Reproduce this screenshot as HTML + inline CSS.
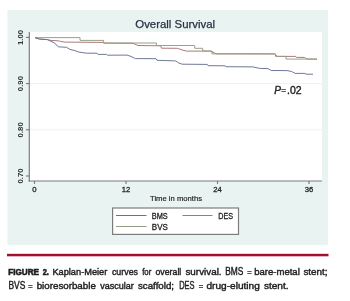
<!DOCTYPE html>
<html><head><meta charset="utf-8">
<style>
html,body{margin:0;padding:0;background:#fff;}
body{width:350px;height:301px;overflow:hidden;}
svg{display:block;filter:blur(0.45px);}
text{font-family:"Liberation Sans",sans-serif;}
</style></head><body>
<svg width="350" height="301" viewBox="0 0 350 301">
<rect x="0" y="0" width="350" height="301" fill="#ffffff"/>
<rect x="7.5" y="10" width="320.5" height="235" fill="#e8f3f2"/>
<rect x="30" y="32" width="292" height="149" fill="#ffffff"/>
<g stroke="#e8f3f2" stroke-width="1">
<line x1="30" y1="83.6" x2="322" y2="83.6"/>
<line x1="30" y1="129.8" x2="322" y2="129.8"/>
</g>
<text x="175.2" y="27.9" font-size="11.4" fill="#2c3044" stroke="#2c3044" stroke-width="0.25" text-anchor="middle">Overall Survival</text>
<g stroke="#7a7a7a" stroke-width="1.15" fill="none">
<line x1="29.3" y1="32" x2="29.3" y2="181.5"/>
<line x1="28.7" y1="181" x2="322" y2="181"/>
<line x1="26" y1="37.4" x2="29.5" y2="37.4"/>
<line x1="26" y1="83.6" x2="29.5" y2="83.6"/>
<line x1="26" y1="129.8" x2="29.5" y2="129.8"/>
<line x1="26" y1="176" x2="29.5" y2="176"/>
<line x1="34.5" y1="181" x2="34.5" y2="183.9"/>
<line x1="126" y1="181" x2="126" y2="183.9"/>
<line x1="217.5" y1="181" x2="217.5" y2="183.9"/>
<line x1="309" y1="181" x2="309" y2="183.9"/>
</g>
<g font-size="7.8" font-weight="bold" fill="#333" text-anchor="middle">
<text transform="translate(22.8,37.4) rotate(-90)">1.00</text>
<text transform="translate(22.8,83.6) rotate(-90)">0.90</text>
<text transform="translate(22.8,129.8) rotate(-90)">0.80</text>
<text transform="translate(22.8,176) rotate(-90)">0.70</text>
</g>
<g font-size="7.7" fill="#262626" stroke="#262626" stroke-width="0.3" text-anchor="middle">
<text x="34.5" y="191.8">0</text>
<text x="126" y="191.8">12</text>
<text x="217.5" y="191.8">24</text>
<text x="309" y="191.8">36</text>
</g>
<text x="150" y="201.3" font-size="8" fill="#262626" stroke="#262626" stroke-width="0.2" textLength="52" lengthAdjust="spacingAndGlyphs">Time in months</text>
<g fill="none" stroke-width="0.95">
<path d="M35.0 37.7 L39.7 39.1 L47.4 39.6 L50.9 40.4 L58.0 40.8 L60.3 41.3 L64.9 42.1 L103.0 42.4 L104.0 43.1 L133.0 43.3 L138.0 45.5 L160.6 45.8 L161.5 48.2 L177.4 48.3 L183.0 50.2 L186.7 51.1 L210.0 51.1 L214.3 52.7 L216.0 53.8 L274.5 53.9 L277.3 56.4 L295.7 56.4 L296.5 57.4 L304.3 57.4 L307.7 59.1 L317.0 59.1" stroke="#a87278"/>
<path d="M35.0 37.6 H80.0 V40.4 H103.6 V43.0 H156.4 V45.5 H194.7 V48.3 H202.7 V51.0 H212.0 V53.9 H275.5 V56.4 H286.0 V59.1 H317.0" stroke="#939c80"/>
<path d="M35.0 37.7 L39.7 39.1 L47.4 39.6 L50.0 40.9 L54.7 43.0 L57.3 46.0 L58.6 46.8 L66.6 47.3 L70.0 49.4 L75.1 50.7 L78.6 52.0 L86.3 53.2 L97.0 53.2 L98.0 54.4 L106.6 54.4 L107.5 55.2 L126.9 55.1 L131.0 56.4 L135.4 58.6 L156.0 58.7 L157.0 60.3 L175.6 60.9 L178.4 62.8 L182.1 64.2 L207.3 64.4 L208.0 65.7 L225.0 65.8 L226.0 66.7 L253.0 66.9 L259.6 68.4 L268.0 68.6 L271.2 70.5 L287.1 70.6 L291.7 71.5 L295.1 73.4 L304.9 73.4 L306.0 74.2 L313.0 74.2" stroke="#687290"/>
</g>
<g font-size="10.1" fill="#262626" stroke="#262626" stroke-width="0.4">
<text x="274.2" y="93.8" font-style="italic">P</text>
<text transform="translate(281.2,92.9) scale(0.8,0.95)">=</text>
<text x="287" y="93.8" textLength="14.6" lengthAdjust="spacingAndGlyphs">.02</text>
</g>
<rect x="112.6" y="208" width="125.9" height="26.4" fill="#ffffff" stroke="#7c7c7c" stroke-width="1.2"/>
<line x1="116" y1="215.5" x2="146.5" y2="215.5" stroke="#687290" stroke-width="1"/>
<line x1="116" y1="226.5" x2="146.5" y2="226.5" stroke="#939c80" stroke-width="1"/>
<line x1="182.5" y1="215.5" x2="212.5" y2="215.5" stroke="#a87278" stroke-width="1"/>
<g font-size="8.6" fill="#222" stroke="#222" stroke-width="0.3">
<text x="151.8" y="219" textLength="16" lengthAdjust="spacingAndGlyphs">BMS</text>
<text x="151.8" y="230.3" textLength="16" lengthAdjust="spacingAndGlyphs">BVS</text>
<text x="218.2" y="219" textLength="14.8" lengthAdjust="spacingAndGlyphs">DES</text>
</g>
<rect x="7" y="253.8" width="321.5" height="2.5" fill="#a3102d"/>
<text x="8.15" y="274.5" font-size="8.50" font-weight="bold" fill="#1f1f1f" stroke="#1f1f1f" stroke-width="0.6" textLength="30.95" lengthAdjust="spacingAndGlyphs">FIGURE</text>
<text x="42.65" y="274.5" font-size="8.50" font-weight="bold" fill="#1f1f1f" stroke="#1f1f1f" stroke-width="0.6" textLength="6.20" lengthAdjust="spacingAndGlyphs">2.</text>
<text x="52.40" y="274.9" font-size="9.40" fill="#1f1f1f" stroke="#1f1f1f" stroke-width="0.42" textLength="54.90" lengthAdjust="spacingAndGlyphs">Kaplan-Meier</text>
<text x="111.95" y="274.9" font-size="9.40" fill="#1f1f1f" stroke="#1f1f1f" stroke-width="0.42" textLength="26.10" lengthAdjust="spacingAndGlyphs">curves</text>
<text x="142.20" y="274.9" font-size="9.40" fill="#1f1f1f" stroke="#1f1f1f" stroke-width="0.42" textLength="9.10" lengthAdjust="spacingAndGlyphs">for</text>
<text x="155.45" y="274.9" font-size="9.40" fill="#1f1f1f" stroke="#1f1f1f" stroke-width="0.42" textLength="25.85" lengthAdjust="spacingAndGlyphs">overall</text>
<text x="185.45" y="274.9" font-size="9.40" fill="#1f1f1f" stroke="#1f1f1f" stroke-width="0.42" textLength="36.15" lengthAdjust="spacingAndGlyphs">survival.</text>
<text x="225.15" y="274.9" font-size="10.15" fill="#1f1f1f" stroke="#1f1f1f" stroke-width="0.42" textLength="18.15" lengthAdjust="spacingAndGlyphs">BMS</text>
<text transform="translate(247.14,274.9) scale(0.8,1)" font-size="9.40" fill="#1f1f1f" stroke="#1f1f1f" stroke-width="0.4">=</text>
<text x="254.20" y="274.9" font-size="9.40" fill="#1f1f1f" stroke="#1f1f1f" stroke-width="0.42" textLength="45.60" lengthAdjust="spacingAndGlyphs">bare-metal</text>
<text x="303.45" y="274.9" font-size="9.40" fill="#1f1f1f" stroke="#1f1f1f" stroke-width="0.42" textLength="24.15" lengthAdjust="spacingAndGlyphs">stent;</text>
<text x="8.42" y="289.3" font-size="10.15" fill="#1f1f1f" stroke="#1f1f1f" stroke-width="0.42" textLength="16.88" lengthAdjust="spacingAndGlyphs">BVS</text>
<text transform="translate(28.14,289.3) scale(0.8,1)" font-size="9.40" fill="#1f1f1f" stroke="#1f1f1f" stroke-width="0.4">=</text>
<text x="36.69" y="289.3" font-size="9.40" fill="#1f1f1f" stroke="#1f1f1f" stroke-width="0.42" textLength="59.14" lengthAdjust="spacingAndGlyphs">bioresorbable</text>
<text x="100.20" y="289.3" font-size="9.40" fill="#1f1f1f" stroke="#1f1f1f" stroke-width="0.42" textLength="33.60" lengthAdjust="spacingAndGlyphs">vascular</text>
<text x="137.95" y="289.3" font-size="9.40" fill="#1f1f1f" stroke="#1f1f1f" stroke-width="0.42" textLength="36.15" lengthAdjust="spacingAndGlyphs">scaffold;</text>
<text x="179.20" y="289.3" font-size="10.15" fill="#1f1f1f" stroke="#1f1f1f" stroke-width="0.42" textLength="15.35" lengthAdjust="spacingAndGlyphs">DES</text>
<text transform="translate(198.64,289.3) scale(0.8,1)" font-size="9.40" fill="#1f1f1f" stroke="#1f1f1f" stroke-width="0.4">=</text>
<text x="206.45" y="289.3" font-size="9.40" fill="#1f1f1f" stroke="#1f1f1f" stroke-width="0.42" textLength="53.35" lengthAdjust="spacingAndGlyphs">drug-eluting</text>
<text x="263.90" y="289.3" font-size="9.40" fill="#1f1f1f" stroke="#1f1f1f" stroke-width="0.42" textLength="24.70" lengthAdjust="spacingAndGlyphs">stent.</text>
</svg>
</body></html>
